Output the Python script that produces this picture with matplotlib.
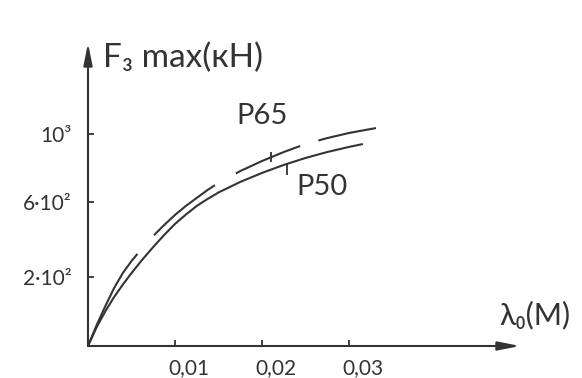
import numpy as np
import matplotlib
matplotlib.use("Agg")
import matplotlib.pyplot as plt
from matplotlib.transforms import ScaledTranslation

# ---- data ----
x_p50 = [0, 0.001, 0.002, 0.003, 0.004, 0.005, 0.00625, 0.0075, 0.00875, 0.01,
         0.01125, 0.0125, 0.01375, 0.015, 0.0175, 0.02, 0.0225, 0.025, 0.0275,
         0.03, 0.0316]
y_p50 = [0, 55, 101, 142, 178, 221, 293, 360, 424, 483,
         533, 579, 618, 656, 718, 771, 818, 859, 894, 924, 941]
x_p65 = [0, 0.001, 0.002, 0.003, 0.004, 0.005, 0.00625, 0.0075, 0.00875, 0.01,
         0.01125, 0.0125, 0.01375, 0.015, 0.0175, 0.02, 0.0225, 0.025, 0.0275,
         0.03, 0.0331]
y_p65 = [0, 61, 116, 168, 221, 285, 355, 419, 477, 531,
         579, 624, 671, 712, 782, 841, 894, 941, 976, 1006, 1035]

x_ticks = [0.01, 0.02, 0.03]
x_ticklabels = ["0,01", "0,02", "0,03"]
y_ticks = [200, 600, 1000]
y_ticklabels = ["2·10²", "6·10²", "10³"]
label_x = {"P50": 0.0229, "P65": 0.0210}

# hand-drawn (non-uniform) y axis: tick values vs. their drawn distance
scale_vals = [0, 200, 600, 1000, 2000]
scale_pos = [0, 69, 144, 212, 382]

def fwd(v):
    return np.interp(v, scale_vals, scale_pos)

def inv(p):
    return np.interp(p, scale_pos, scale_vals)

ink = "#333333"
plt.rcParams["font.family"] = ["Lato", "DejaVu Sans"]
plt.rcParams["lines.scale_dashes"] = False

fig = plt.figure(figsize=(5.82, 3.78), dpi=100)
fig.patch.set_facecolor("white")
ax = fig.add_axes([88 / 582, 32 / 378, 432 / 582, 303 / 378])
ax.set_yscale("function", functions=(fwd, inv))
ax.set_xlim(0, 432 / 8700)
ax.set_ylim(0, inv(303))

for s in ax.spines.values():
    s.set_visible(False)

# curves
ax.plot(x_p50, y_p50, color=ink, lw=1.5, solid_capstyle="butt", solid_joinstyle="round")
ax.plot(x_p65, y_p65, color=ink, lw=1.5, dashes=(75.6, 18, 56.9, 17.3, 50.4, 13.7, 43.2, 36),
        dash_capstyle="butt", dash_joinstyle="round")

# axis arrows
arrow_kw = dict(arrowstyle="-|>,head_length=1.1,head_width=0.22", color=ink, lw=1.5,
                shrinkA=0, shrinkB=0, mutation_scale=12)
ax.annotate("", xy=(1, 0), xytext=(0, 0), xycoords="axes fraction",
            textcoords="axes fraction", arrowprops=arrow_kw, annotation_clip=False)
ax.annotate("", xy=(0, 1), xytext=(0, 0), xycoords="axes fraction",
            textcoords="axes fraction", arrowprops=arrow_kw, annotation_clip=False)

# ticks
ax.set_xticks(x_ticks)
ax.set_xticklabels(x_ticklabels)
ax.set_yticks(y_ticks)
ax.set_yticklabels(y_ticklabels)
ax.tick_params(axis="both", direction="in", length=4, width=1.3, color=ink,
               labelcolor=ink, labelsize=15)
ax.tick_params(axis="x", pad=9)
ax.tick_params(axis="y", pad=12)
ax.minorticks_off()
for lab in ax.get_xticklabels():
    lab.set_transform(lab.get_transform() + ScaledTranslation(0.14, 0, fig.dpi_scale_trans))

# axis titles
ax.annotate("F₃ max(кН)", xy=(0, 1), xycoords="axes fraction", xytext=(11, -11),
            textcoords="offset points", ha="left", va="center", fontsize=24, color=ink,
            annotation_clip=False)
ax.annotate("λ₀(М)", xy=(1, 0), xycoords="axes fraction", xytext=(11, 22),
            textcoords="offset points", ha="center", va="center", fontsize=22, color=ink,
            annotation_clip=False)

# curve labels with short leader ticks
px = label_x["P65"]
py = np.interp(px, x_p65, y_p65)
ax.plot([px], [py], marker="|", markersize=7, mew=1.3, color=ink)
ax.annotate("P65", xy=(px, py), xytext=(-6.5, 29.5), textcoords="offset points",
            ha="center", va="center", fontsize=21, color=ink)

px = label_x["P50"]
py = np.interp(px, x_p50, y_p50)
ax.plot([px], [py], marker=[(0, 0.1), (0, -1)], markersize=16, mew=1.3, color=ink,
        fillstyle="none")
ax.annotate("P50", xy=(px, py), xytext=(25, -17), textcoords="offset points",
            ha="center", va="center", fontsize=21, color=ink)

fig.savefig("out.png", dpi=100, facecolor="white")
